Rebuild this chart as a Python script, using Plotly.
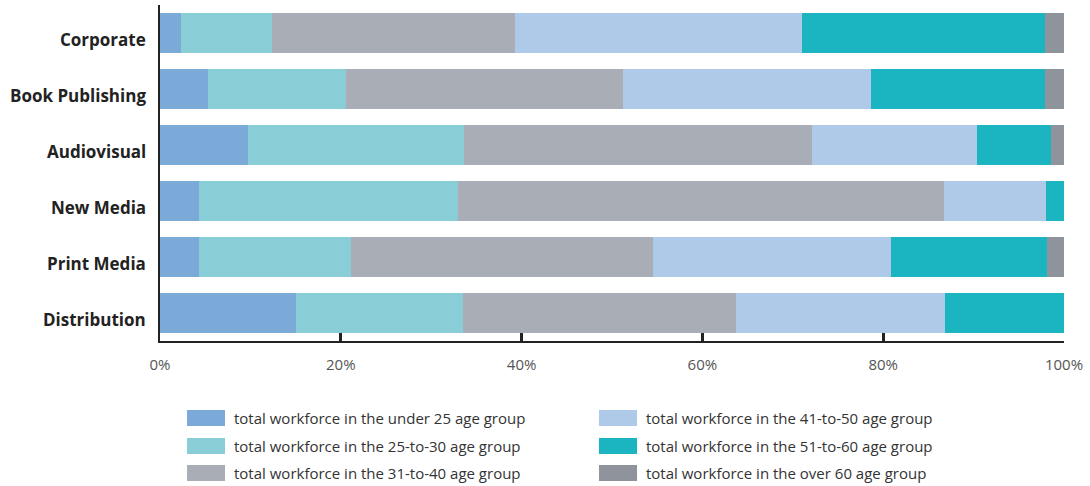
import plotly.graph_objects as go

categories = ["Corporate", "Book Publishing", "Audiovisual", "New Media", "Print Media", "Distribution"]
series_names = [
    "total workforce in the under 25 age group",
    "total workforce in the 25-to-30 age group",
    "total workforce in the 31-to-40 age group",
    "total workforce in the 41-to-50 age group",
    "total workforce in the 51-to-60 age group",
    "total workforce in the over 60 age group",
]
under_25 = [2.3, 5.3, 9.7, 4.3, 4.3, 15.0]
age_25_30 = [10.1, 15.3, 23.9, 28.7, 16.8, 18.5]
age_31_40 = [26.9, 30.6, 38.5, 53.7, 33.4, 30.2]
age_41_50 = [31.7, 27.5, 18.3, 11.3, 26.4, 23.1]
age_51_60 = [26.9, 19.2, 8.2, 2.0, 17.2, 13.2]
over_60 = [2.1, 2.1, 1.4, 0.0, 1.9, 0.0]
tick_vals = [0, 20, 40, 60, 80, 100]
tick_text = ["0%", "20%", "40%", "60%", "80%", "100%"]

colors = ["#7BAAD9", "#89CDD6", "#A9ADB5", "#AFC9E9", "#1AB5C1", "#8E939C"]
series = [under_25, age_25_30, age_31_40, age_41_50, age_51_60, over_60]

fig = go.Figure()
for name, vals, col in zip(series_names, series, colors):
    fig.add_trace(go.Bar(
        y=categories, x=vals, name=name, orientation="h",
        marker=dict(color=col, line=dict(width=0)),
        showlegend=False,
    ))

# category labels (slightly below bar centre, as in the reference)
for cat in categories:
    fig.add_annotation(xref="paper", yref="y", x=0, y=cat, text=cat, showarrow=False,
                       xanchor="right", yanchor="middle", xshift=-12, yshift=-6,
                       font=dict(family="Open Sans", size=17, color="#222222", weight="bold"))

# custom legend (two columns, three rows)
legend_rows_y = [-0.229, -0.3125, -0.3929]
col_x = [(0.0299, 0.0719, 0.0797), (0.4856, 0.5277, 0.5354)]
sw_h = 16 / 336 / 2
for i, (name, col) in enumerate(zip(series_names, colors)):
    c = i // 3
    r = i % 3
    x0, x1, tx = col_x[c]
    yc = legend_rows_y[r]
    fig.add_shape(type="rect", xref="paper", yref="paper",
                  x0=x0, x1=x1, y0=yc - sw_h, y1=yc + sw_h,
                  fillcolor=col, line=dict(width=0))
    fig.add_annotation(xref="paper", yref="paper", x=tx, y=yc,
                       text=name, showarrow=False, xanchor="left", yanchor="middle",
                       font=dict(family="Open Sans", size=15, color="#333333"))

fig.update_layout(
    barmode="stack",
    bargap=0.27,
    width=1090, height=486,
    margin=dict(l=160, r=26, t=5, b=145),
    paper_bgcolor="white", plot_bgcolor="white",
    xaxis=dict(range=[0, 100], tickvals=tick_vals, ticktext=tick_text,
               showgrid=False, zeroline=False, showline=True, linecolor="#222222", linewidth=2,
               ticks="inside", ticklen=8, tickwidth=3, tickcolor="#222222",
               tickfont=dict(family="Open Sans", size=15, color="#555555"),
               ticklabelstandoff=9, fixedrange=True),
    yaxis=dict(categoryorder="array", categoryarray=categories[::-1],
               showgrid=False, zeroline=False, showline=True, linecolor="#222222", linewidth=2,
               ticks="", showticklabels=False, fixedrange=True),
    showlegend=False,
)

fig.write_html("out.html")
